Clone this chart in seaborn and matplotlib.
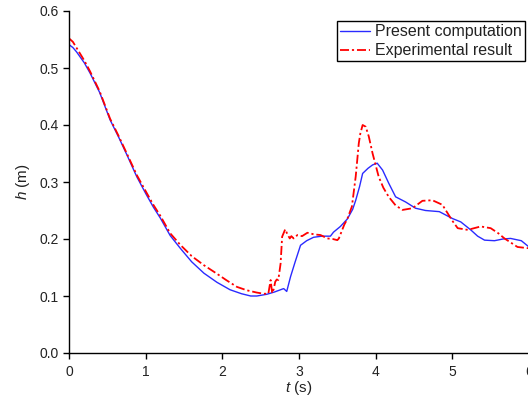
import numpy as np
import pandas as pd
import matplotlib
matplotlib.use("Agg")
import matplotlib.pyplot as plt
import seaborn as sns

# ---- data ----
t_comp = [0, 0.05, 0.1, 0.2, 0.275, 0.4, 0.536, 0.65, 0.754, 0.885, 1.0, 1.1,
          1.19, 1.32, 1.45, 1.6, 1.76, 1.93, 2.1, 2.25, 2.37, 2.45, 2.58, 2.68,
          2.76, 2.80, 2.84, 2.89, 2.95, 3.02, 3.1, 3.19, 3.3, 3.41, 3.45, 3.54,
          3.63, 3.7, 3.74, 3.79, 3.83, 3.9, 3.96, 4.02, 4.09, 4.17, 4.26, 4.39,
          4.52, 4.65, 4.83, 5.0, 5.11, 5.24, 5.33, 5.42, 5.55, 5.66, 5.76, 5.9,
          6.0]
h_comp = [0.541, 0.536, 0.528, 0.509, 0.491, 0.457, 0.409, 0.378, 0.348, 0.309,
          0.280, 0.256, 0.237, 0.206, 0.184, 0.160, 0.140, 0.124, 0.111, 0.104,
          0.100, 0.100, 0.103, 0.107, 0.111, 0.113, 0.108, 0.134, 0.160, 0.189,
          0.197, 0.203, 0.205, 0.205, 0.212, 0.222, 0.235, 0.252, 0.268, 0.292,
          0.315, 0.324, 0.330, 0.333, 0.321, 0.298, 0.274, 0.265, 0.254, 0.250,
          0.248, 0.236, 0.230, 0.216, 0.205, 0.198, 0.197, 0.200, 0.201, 0.197,
          0.186]

t_exp = [0, 0.05, 0.1, 0.2, 0.275, 0.4, 0.536, 0.65, 0.754, 0.885, 1.0, 1.1,
         1.19, 1.32, 1.45, 1.6, 1.76, 1.93, 2.05, 2.19, 2.32, 2.45, 2.54, 2.6,
         2.63, 2.65, 2.67, 2.69, 2.71, 2.73, 2.76, 2.78, 2.82, 2.85, 2.88, 2.9,
         2.93, 2.98, 3.04, 3.11, 3.2, 3.28, 3.37, 3.44, 3.5, 3.52, 3.59, 3.63,
         3.69, 3.74, 3.78, 3.80, 3.83, 3.87, 3.91, 3.96, 4.04, 4.1, 4.17, 4.26,
         4.35, 4.48, 4.61, 4.74, 4.87, 5.0, 5.07, 5.2, 5.37, 5.5, 5.6, 5.68,
         5.85, 5.98, 6.0]
h_exp = [0.552, 0.546, 0.535, 0.513, 0.494, 0.459, 0.411, 0.380, 0.350, 0.312,
         0.284, 0.260, 0.241, 0.210, 0.190, 0.170, 0.154, 0.139, 0.128, 0.116,
         0.110, 0.106, 0.104, 0.104, 0.128, 0.105, 0.112, 0.125, 0.129, 0.128,
         0.157, 0.204, 0.217, 0.208, 0.201, 0.205, 0.201, 0.207, 0.205, 0.211,
         0.208, 0.207, 0.201, 0.200, 0.198, 0.201, 0.225, 0.235, 0.257, 0.310,
         0.368, 0.385, 0.400, 0.397, 0.380, 0.350, 0.309, 0.290, 0.274, 0.259,
         0.251, 0.254, 0.267, 0.268, 0.260, 0.232, 0.219, 0.216, 0.222, 0.219,
         0.210, 0.201, 0.186, 0.184, 0.184]

label_comp = "Present computation"
label_exp = "Experimental result"
x_ticks = [0, 1, 2, 3, 4, 5, 6]
y_ticks = [0.0, 0.1, 0.2, 0.3, 0.4, 0.5, 0.6]

# ---- style ----
sns.set_style("ticks")
plt.rcParams["font.family"] = ["Liberation Sans", "DejaVu Sans"]
plt.rcParams["mathtext.fontset"] = "custom"
plt.rcParams["mathtext.rm"] = "Liberation Sans"
plt.rcParams["mathtext.it"] = "Liberation Sans:italic"

fig = plt.figure(figsize=(5.28, 3.99), dpi=100)
ax = fig.add_axes([69 / 528, 1 - 353 / 399, (529 - 69) / 528, (353 - 11) / 399])

df_comp = pd.DataFrame({"t": t_comp, "h": h_comp})
df_exp = pd.DataFrame({"t": t_exp, "h": h_exp})

sns.lineplot(data=df_comp, x="t", y="h", ax=ax, color="#2a2aff", lw=1.0,
             sort=False, estimator=None, label=label_comp)
sns.lineplot(data=df_exp, x="t", y="h", ax=ax, color="#ff0000", lw=1.3,
             sort=False, estimator=None, label=label_exp, dashes=False)
ax.lines[1].set_dashes([5, 1.6, 1.2, 1.6])

ax.set_xlim(0, 6)
ax.set_ylim(0, 0.6)
ax.set_xticks(x_ticks)
ax.set_xticklabels([str(v) for v in x_ticks])
ax.set_yticks(y_ticks)
ax.set_yticklabels([f"{v:.1f}" for v in y_ticks])

for s in ["top", "right"]:
    ax.spines[s].set_visible(False)
for s in ["left", "bottom"]:
    ax.spines[s].set_linewidth(1.0)
    ax.spines[s].set_color("black")
ax.tick_params(axis="both", direction="out", length=4.5, width=1.0,
               color="black", labelsize=10, labelcolor="#222222")
ax.tick_params(axis="y", pad=3)
ax.tick_params(axis="x", pad=4)

ax.set_xlabel("$t$ (s)", fontsize=11, labelpad=0, color="#222222")
ax.set_ylabel("$h$ (m)", fontsize=11, labelpad=5, color="#222222")

leg = ax.legend(loc="upper right", bbox_to_anchor=(525 / 528, 1 - 21 / 399),
                bbox_transform=fig.transFigure, borderaxespad=0, fontsize=11.5,
                frameon=True, fancybox=False, framealpha=1, edgecolor="black",
                handlelength=1.9, handletextpad=0.3, borderpad=0.2,
                labelspacing=0.25)
leg.get_frame().set_linewidth(1.0)
for t in leg.get_texts():
    t.set_color("#222222")

fig.savefig("out.png", dpi=100)
